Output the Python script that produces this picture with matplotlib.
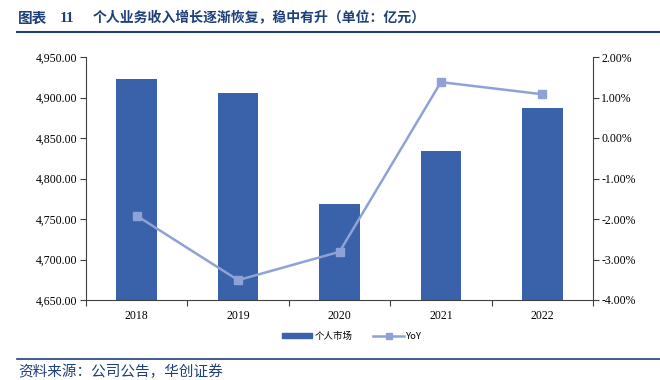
import matplotlib
matplotlib.use('Agg')
import matplotlib.pyplot as plt
from matplotlib.ticker import FuncFormatter, FixedLocator
from matplotlib.lines import Line2D
from matplotlib.patches import Patch

years = ['2018', '2019', '2020', '2021', '2022']
personal = [4922.5, 4906.0, 4769.0, 4833.5, 4886.5]
yoy = [-1.92, -3.51, -2.81, 1.38, 1.08]

title_no = '11'
title = '个人业务收入增长逐渐恢复，稳中有升（单位：亿元）'
source = '资料来源：公司公告，华创证券'

bar_color = '#3A62AA'
line_color = '#8EA2D7'
navy = '#1F3F7A'
serif = ['Liberation Serif', 'DejaVu Serif']
cjk = ['Noto Sans CJK SC', 'DejaVu Sans']

fig = plt.figure(figsize=(6.6, 3.8), dpi=100)
ax1 = fig.add_axes([86/660, 1-300/380, (593-86)/660, (300-57)/380])

x = list(range(len(years)))
ax1.bar(x, personal, width=0.4, color=bar_color, zorder=2)
ax1.set_ylim(4650, 4950)
ax1.set_xlim(-0.5, 4.5)
ax1.set_yticks([4650 + 50*i for i in range(7)])
ax1.yaxis.set_major_formatter(FuncFormatter(lambda v, p: '{:,.2f}'.format(v)))
ax1.set_xticks(x)
ax1.set_xticklabels(years)
ax1.xaxis.set_minor_locator(FixedLocator([i + 0.5 for i in range(-1, 5)]))
ax1.tick_params(axis='x', which='major', length=0, pad=7)
ax1.tick_params(axis='x', which='minor', length=4, width=0.8, color='#404040')
ax1.tick_params(axis='y', length=4, width=0.8, color='#404040', pad=2)
for lab in ax1.get_xticklabels() + ax1.get_yticklabels():
    lab.set_family(serif)
    lab.set_fontsize(8.5)
for s in ['top', 'right']:
    ax1.spines[s].set_visible(False)
for s in ['left', 'bottom']:
    ax1.spines[s].set_color('#404040')
    ax1.spines[s].set_linewidth(0.8)

ax2 = ax1.twinx()
ax2.plot(x, yoy, color=line_color, lw=1.8, marker='s', markersize=5.5, zorder=3)
ax2.set_ylim(-4, 2)
ax2.set_yticks(range(-4, 3))
ax2.yaxis.set_major_formatter(FuncFormatter(lambda v, p: '{:.2f}%'.format(v)))
ax2.tick_params(axis='y', length=4, width=0.8, color='#404040', pad=2)
for lab in ax2.get_yticklabels():
    lab.set_family(serif)
    lab.set_fontsize(8.5)
for s in ['top', 'left', 'bottom']:
    ax2.spines[s].set_visible(False)
ax2.spines['right'].set_color('#404040')
ax2.spines['right'].set_linewidth(0.8)

handles = [Patch(color=bar_color),
           Line2D([], [], color=line_color, lw=1.8, marker='s', markersize=4)]
leg = fig.legend(handles, ['个人市场', 'YoY'], loc='center', bbox_to_anchor=(352/660, 1-336/380),
                 ncol=2, frameon=False, handlelength=3.2, handleheight=0.5, columnspacing=2.2,
                 handletextpad=0.3, prop={'family': cjk, 'size': 6.8})

fig.text(18/660, 1-18/380, '图表', family=cjk, fontsize=10.5, fontweight='bold',
         color=navy, va='center', ha='left')
fig.text(60/660, 1-18/380, title_no, family=serif, fontsize=11, fontweight='bold',
         color=navy, va='center', ha='left')
fig.text(93/660, 1-18/380, title, family=cjk, fontsize=10, fontweight='bold',
         color=navy, va='center', ha='left')
fig.add_artist(Line2D([17/660, 1], [1-32/380, 1-32/380], color=navy, lw=1.5))
fig.add_artist(Line2D([17/660, 1], [1-359/380, 1-359/380], color=navy, lw=1.2))
fig.text(18/660, 1-372/380, source, family=cjk, fontsize=10.5, fontstyle='italic',
         color=navy, va='center', ha='left')

fig.savefig('out.png', dpi=100)
